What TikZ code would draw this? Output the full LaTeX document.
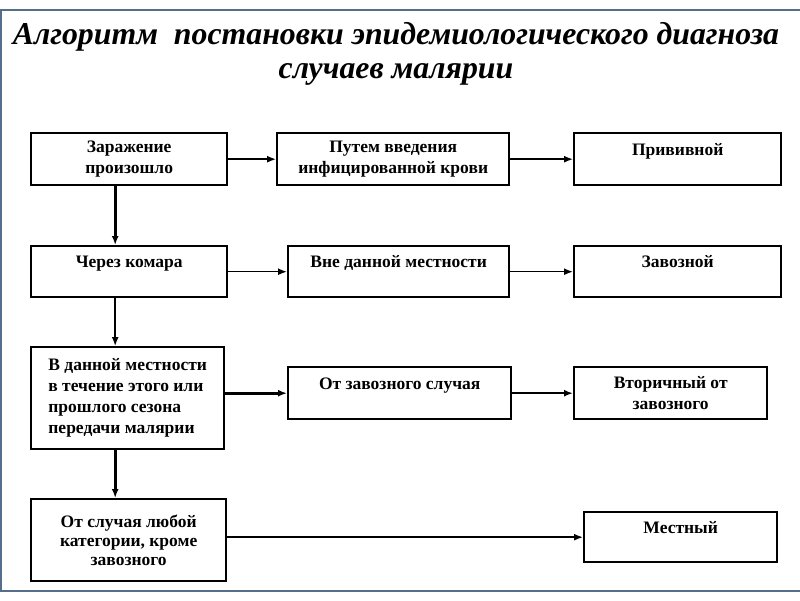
\documentclass[tikz,border=0pt]{standalone}
\usepackage{fontspec}
\setmainfont{Liberation Serif}
\usetikzlibrary{arrows.meta}
\definecolor{framecol}{RGB}{84,110,140}

\begin{document}
\begin{tikzpicture}[x=1pt,y=-1pt,
	box/.style 2 args={draw,line width=2.4pt,anchor=north west,inner sep=0pt,
		minimum width=#1,minimum height=#2,align=center,
		font=\bfseries\fontsize{17.5}{21}\selectfont},
	uptext/.style={text depth=20pt},
	arrthin/.style={-{Latex[length=9pt,width=7pt]},line width=1.5pt},
	arrbold/.style={-{Latex[length=9pt,width=7pt]},line width=3pt}]
	\useasboundingbox (0,0) rectangle (800,600);
	\draw[framecol,line width=1.2pt] (800,10) -- (1,10) -- (1,591) -- (800,591);

	\node[font=\bfseries\itshape\fontsize{31.8}{34}\selectfont,align=center] (ttl) at (396,54)
		{Алгоритм~ постановки эпидемиологического диагноза\\случаев малярии};

	% row 1
	\node[box={196pt}{52pt}] (zar) at (30,132) {Заражение\\произошло};
	\node[box={232pt}{52pt}] (vved) at (276,132) {Путем введения\\инфицированной крови};
	\node[box={207pt}{52pt},uptext] (priv) at (573,132) {Прививной};

	% row 2
	\node[box={196pt}{51pt},uptext] (kom) at (30,245) {Через комара};
	\node[box={221pt}{51pt},uptext] (vne) at (287,245) {Вне данной местности};
	\node[box={207pt}{51pt},uptext] (zavoz) at (573,245) {Завозной};

	% row 3
	\node[box={193pt}{102pt},align=left] (mestn) at (30,346)
		{В данной местности\\в течение этого или\\прошлого сезона\\передачи малярии};
	\node[box={223pt}{52pt},uptext] (otzav) at (287,366) {От завозного случая};
	\node[box={193pt}{52pt}] (vtor) at (573,366) {Вторичный от\\завозного};

	% row 4
	\node[box={195pt}{82pt},font=\bfseries\fontsize{17.5}{19}\selectfont] (lyub) at (30,498)
		{От случая любой\\категории, кроме\\завозного};
	\node[box={193pt}{50pt},uptext] (mest) at (583,511) {Местный};

	\draw[arrthin] (zar) -- (vved);
	\draw[arrthin] (vved) -- (priv);
	\draw[arrthin] (vne.west -| kom.east) -- (vne.west);
	\draw[arrthin] (vne) -- (zavoz);
	\draw[arrbold] (otzav.west -| mestn.east) -- (otzav.west);
	\draw[arrthin,line width=2pt] (otzav) -- (vtor);
	\draw[arrthin] (mest.west -| lyub.east) -- (mest.west);

	\draw[arrbold] ([xshift=-14pt]zar.south) -- ([xshift=-14pt]kom.north);
	\draw[arrthin] ([xshift=-14pt]kom.south) -- ([xshift=-12.5pt]mestn.north);
	\draw[arrbold] ([xshift=-12.5pt]mestn.south) -- ([xshift=-13.5pt]lyub.north);
\end{tikzpicture}
\end{document}
